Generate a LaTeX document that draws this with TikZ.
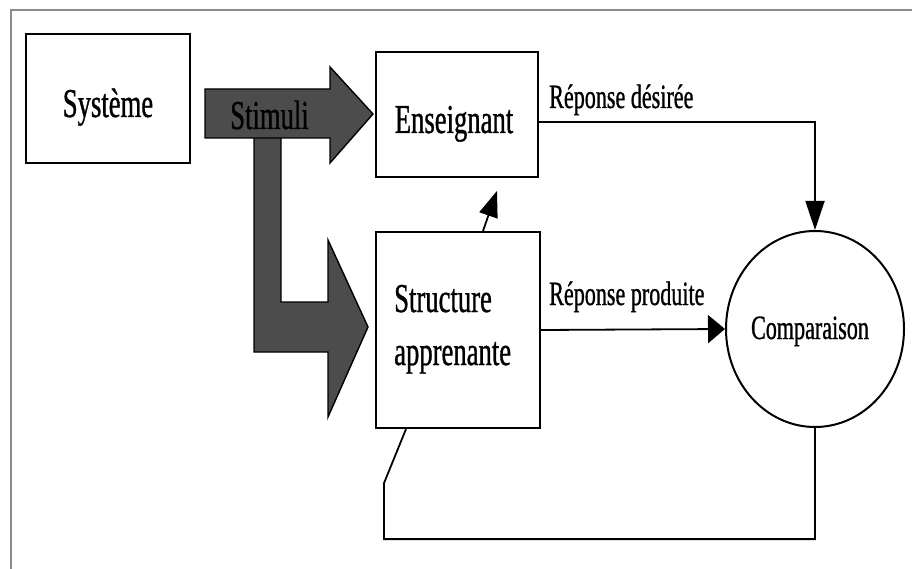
\documentclass[tikz,border=0pt]{standalone}
\usepackage{fontspec}
\setmainfont{Liberation Serif}[FakeStretch=0.65,FakeBold=0.8]
\usetikzlibrary{arrows.meta,shapes.geometric}

\tikzset{
  blockbox/.style={draw=black, line width=2.2pt, fill=white, inner sep=0pt},
  bigtxt/.style={inner sep=0pt, font=\fontsize{41}{53}\selectfont},
  lbltxt/.style={inner sep=0pt, font=\fontsize{34}{40}\selectfont},
  wire/.style={draw=black, line width=1.8pt},
  bigarrow/.style={fill=black!70, draw=black, line width=1.4pt, line join=miter},
  frameline/.style={draw=black!45, line width=1.5pt},
  vtip/.style={-{Triangle[length=29pt,width=19pt]}},
  htip/.style={-{Triangle[length=17pt,width=28pt]}},
  dtip/.style={-{Triangle[length=26pt,width=19pt]}},
}

\begin{document}
\begin{tikzpicture}[x=1pt, y=-1pt]
\useasboundingbox (0,0) rectangle (912,569);

% outer frame (top and left edges)
\draw[frameline] (11,569) -- (11,10) -- (912,10);

% blocks
\node[blockbox, minimum width=164, minimum height=129] (sys) at (108,98.5) {};
\node[bigtxt, anchor=base] (systxt) at (108,117) {Système};

\node[blockbox, minimum width=162, minimum height=125] (ens) at (457,114.5) {};
\node[bigtxt, anchor=base] (enstxt) at (454,133) {Enseignant};

\node[blockbox, minimum width=164, minimum height=196] (str) at (458,330) {};
\node[bigtxt, anchor=base west] (strtxt1) at (394,312) {Structure};
\node[bigtxt, anchor=base west] (strtxt2) at (394,365) {apprenante};

\node[draw=black, line width=2pt, ellipse, minimum width=178, minimum height=196, inner sep=0pt] (cmp) at (815,329) {};
\node[lbltxt, anchor=base] (cmptxt) at (810,339) {Comparaison};

% stimuli: L-shaped arrow towards the learning structure
\path[bigarrow] (254,130) -- (281,130) -- (281,302) -- (328,302) -- (328,240)
  -- (368,327) -- (328,417) -- (328,352) -- (254,352) -- cycle;
% stimuli: straight arrow towards the teacher
\path[bigarrow] (205,89) -- (330,89) -- (330,67) -- (373,114) -- (330,163)
  -- (330,138) -- (205,138) -- cycle;
\node[bigtxt, anchor=base] (stim) at (269.5,129) {Stimuli};

% desired response
\draw[wire, vtip] ([yshift=-7.5pt]ens.east) -| (cmp.north);
\node[lbltxt, anchor=base west] (des) at (549,108) {Réponse désirée};

% produced response
\draw[wire, htip] (str.east) -- (cmp.west);
\node[lbltxt, anchor=base west] (prod) at (549,305) {Réponse produite};

% link from learner to teacher
\draw[wire, dtip] ([xshift=25pt]str.north) -- ([shift={(39pt,40pt)}]str.north);

% feedback loop
\draw[wire] ([xshift=-52pt]str.south) -- ++(-22,54) -- ++(0,56) -| (cmp.south);
\end{tikzpicture}
\end{document}
